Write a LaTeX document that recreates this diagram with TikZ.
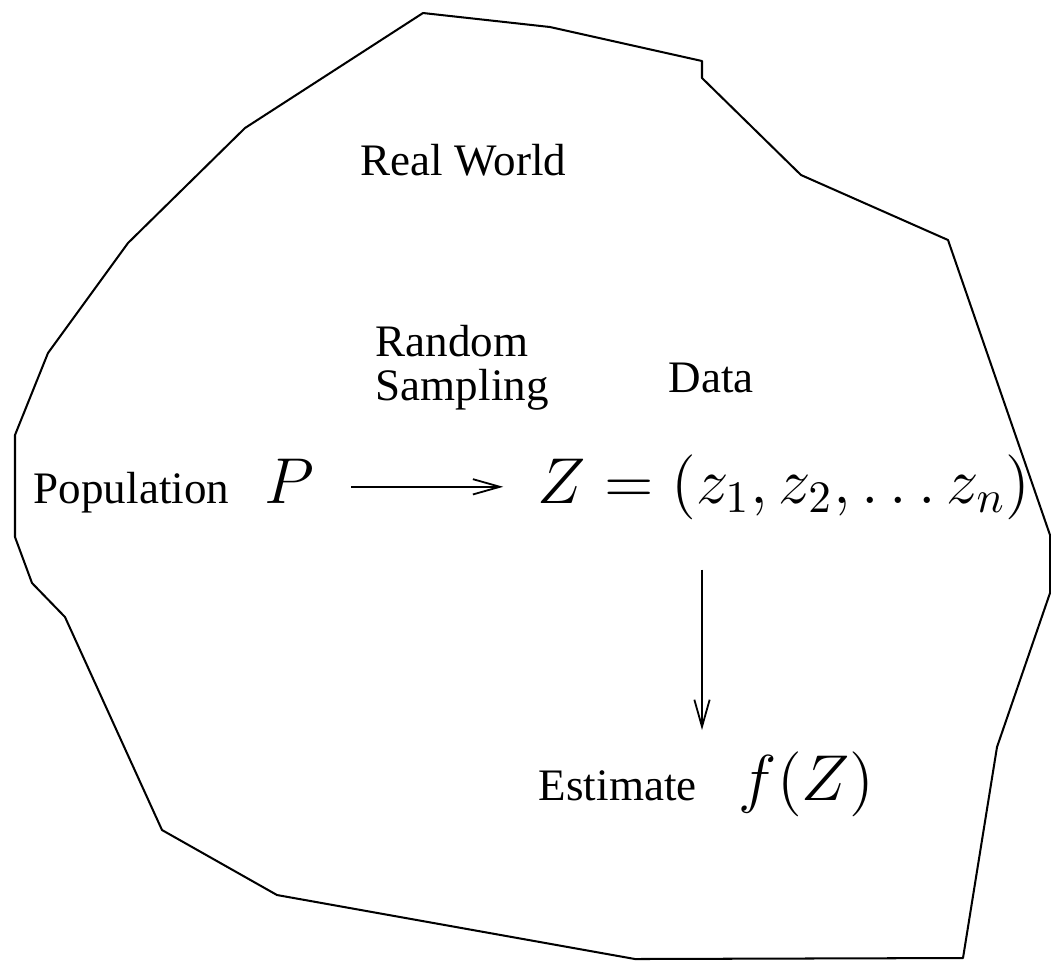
\documentclass[tikz,border=0pt]{standalone}
\usepackage[no-math]{fontspec}
\setmainfont{Liberation Serif}
\usepackage{amsmath}
\usetikzlibrary{arrows.meta, positioning}

\tikzset{
  txt/.style={inner sep=0pt, font=\fontsize{10}{9.6}\selectfont},
  mth/.style={inner sep=0pt, font=\fontsize{14}{17}\selectfont},
  flow/.style={-{Straight Barb[length=6pt, width=3.4pt]}, line width=0.4pt}
}

\begin{document}
\begin{tikzpicture}[x=0.222pt, y=-0.222pt]
        \useasboundingbox (0,0) rectangle (1051,962);
        % the real world outline
        \draw[line width=0.45pt, line join=round]
          (423,13) -- (550,27) -- (702,61) -- (702,78) -- (801,175) -- (948,240)
          -- (1050,535) -- (1050,593) -- (997,747) -- (963,958) -- (635,959)
          -- (277,895) -- (162,830) -- (65,617) -- (32,583) -- (15,537)
          -- (15,435) -- (48,353) -- (128,243) -- (245,128) -- cycle;

        \node[txt, anchor=base west] (world) at (360,175) {Real World};
        \node[txt, anchor=base west, align=left] (samp) at (375,400) {Random\\Sampling};
        \node[txt, anchor=base west] (data) at (668,392) {Data};

        \node[txt, anchor=base west] (pop) at (33,503) {Population};
        \node[mth, base right=7.5pt of pop] (P) {$P$};
        \node[mth, anchor=base west] (Z) at (537,503) {$Z=(z_1,z_2,\ldots z_n)$};

        \node[txt, anchor=base west] (est) at (538,800) {Estimate};
        \node[mth, base right=9pt of est] (fZ) {$f(Z)$};

        \coordinate (dn) at (702,730);
        \draw[flow, shorten <=8pt, shorten >=7.5pt] (P.east |- Z.west) -- (Z.west);
        \draw[flow, shorten <=11pt] (Z.south -| dn) -- (dn);
      \end{tikzpicture}
\end{document}
